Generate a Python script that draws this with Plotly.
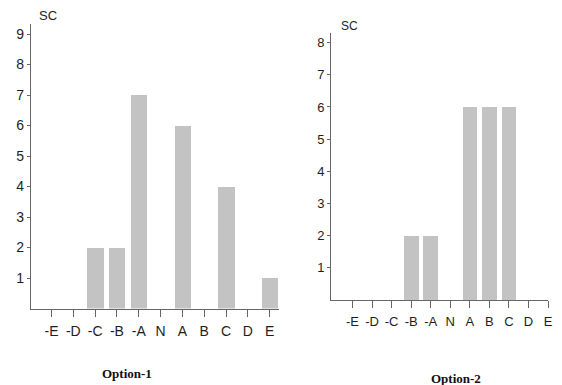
import plotly.graph_objects as go

categories = ["-E", "-D", "-C", "-B", "-A", "N", "A", "B", "C", "D", "E"]
option1_values = [0, 0, 2, 2, 7, 0, 6, 0, 4, 0, 1]
option2_values = [0, 0, 0, 2, 2, 0, 6, 6, 6, 0, 0]
option1_ticks = [1, 2, 3, 4, 5, 6, 7, 8, 9]
option2_ticks = [1, 2, 3, 4, 5, 6, 7, 8]

W, H = 562, 385
BAR = "#c3c3c3"
AX = "#666666"
FONT = "Liberation Sans, Arial, sans-serif"
TXT = "#1e1e1e"

fig = go.Figure()
fig.add_trace(go.Bar(x=list(range(len(categories))), y=option1_values, width=0.75,
                     marker=dict(color=BAR, line=dict(width=0)), xaxis="x", yaxis="y",
                     showlegend=False))
fig.add_trace(go.Bar(x=list(range(len(categories))), y=option2_values, width=0.75,
                     marker=dict(color=BAR, line=dict(width=0)), xaxis="x2", yaxis="y2",
                     showlegend=False))

def px_x(p):
    return p / W

def px_y(p):
    return 1 - p / H

xcommon = dict(tickmode="array", tickvals=list(range(len(categories))), ticktext=categories,
               showline=True, linecolor=AX, linewidth=1, ticks="outside", ticklen=7,
               tickcolor=AX, tickwidth=1, showgrid=False, zeroline=False)
ycommon = dict(tickmode="array", showline=True, linecolor=AX, linewidth=1,
               ticks="outside", ticklen=3, tickcolor=AX, showgrid=False, zeroline=False)

fig.update_layout(
    width=W, height=H, margin=dict(l=0, r=0, t=0, b=0),
    paper_bgcolor="white", plot_bgcolor="white", bargap=0,
    xaxis=dict(domain=[px_x(31), px_x(281)], range=[-0.95, 10.4], anchor="y",
               ticklabelstandoff=3, tickfont=dict(family=FONT, size=14, color=TXT), **xcommon),
    yaxis=dict(domain=[px_y(308.5), px_y(24)], range=[0, 9.33], anchor="x",
               tickvals=option1_ticks, tickfont=dict(family=FONT, size=14, color=TXT), **ycommon),
    xaxis2=dict(domain=[px_x(334), px_x(553)], range=[-1.1, 10], anchor="y2",
                ticklabelstandoff=2, tickfont=dict(family=FONT, size=13, color=TXT), **xcommon),
    yaxis2=dict(domain=[px_y(300), px_y(33)], range=[0, 8.3], anchor="x2",
                tickvals=option2_ticks, tickfont=dict(family=FONT, size=13, color=TXT), **ycommon),
    annotations=[
        dict(text="SC", x=px_x(37), y=px_y(15), xref="paper", yref="paper",
             xanchor="left", yanchor="middle", showarrow=False,
             font=dict(family=FONT, size=13, color=TXT)),
        dict(text="SC", x=px_x(342), y=px_y(26), xref="paper", yref="paper",
             xanchor="left", yanchor="middle", showarrow=False,
             font=dict(family=FONT, size=12, color=TXT)),
        dict(text="<b>Option-1</b>", x=px_x(128), y=px_y(373), xref="paper", yref="paper",
             xanchor="center", yanchor="middle", showarrow=False,
             font=dict(family="Liberation Serif, Times New Roman, serif", size=13, color="#111111")),
        dict(text="<b>Option-2</b>", x=px_x(460), y=px_y(378), xref="paper", yref="paper",
             xanchor="center", yanchor="middle", showarrow=False,
             font=dict(family="Liberation Serif, Times New Roman, serif", size=13, color="#111111")),
    ],
)

fig.write_html("out.html")
